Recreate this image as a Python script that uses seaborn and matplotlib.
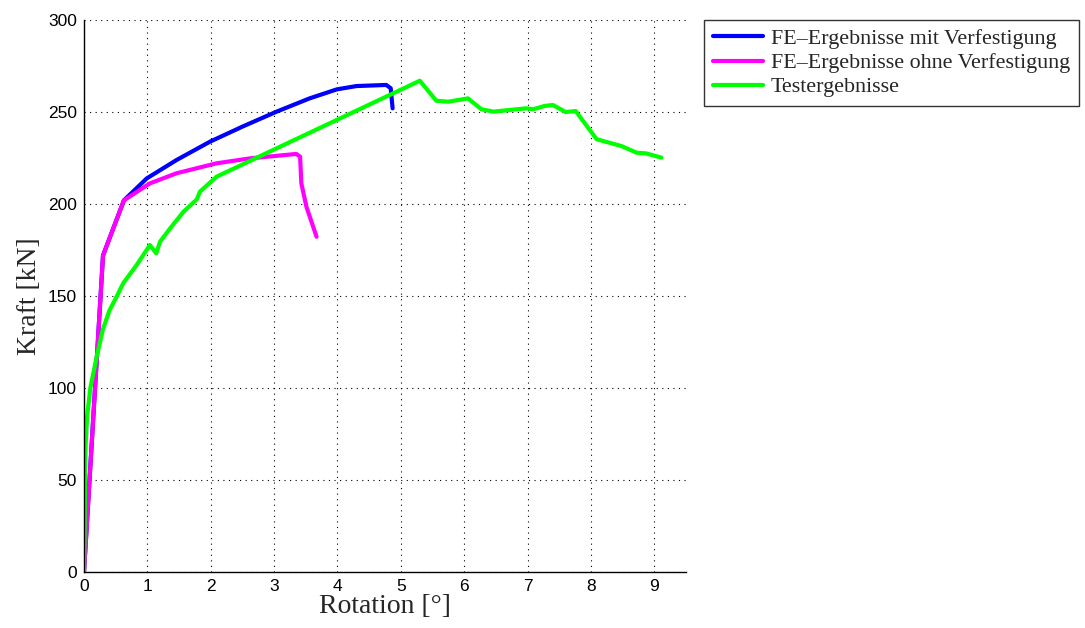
import numpy as np
import pandas as pd
import matplotlib
matplotlib.use("Agg")
import matplotlib.pyplot as plt
from matplotlib.ticker import AutoMinorLocator
import seaborn as sns

# --- data ---
rot_mit = [0.0, 0.30, 0.63, 0.99, 1.46, 1.99, 2.51, 3.04, 3.56, 3.99, 4.30, 4.77, 4.84, 4.87]
kraft_mit = [0.0, 172.0, 202.0, 213.9, 223.9, 233.9, 242.2, 250.2, 257.4, 262.3, 264.1, 264.7, 262.9, 252.0]

rot_ohne = [0.0, 0.30, 0.63, 1.04, 1.46, 2.09, 2.62, 3.35, 3.41, 3.43, 3.51, 3.67]
kraft_ohne = [0.0, 172.0, 202.0, 211.2, 216.7, 222.1, 224.8, 227.2, 225.7, 211.2, 198.5, 182.2]

rot_test = [0.0, 0.01, 0.02, 0.05, 0.10, 0.20, 0.30, 0.40, 0.52, 0.62, 0.83, 1.04, 1.14, 1.20,
            1.36, 1.57, 1.78, 1.83, 2.09, 5.30, 5.56, 5.75, 6.06, 6.27, 6.46, 6.98, 7.09,
            7.27, 7.40, 7.60, 7.76, 8.09, 8.48, 8.72, 8.87, 9.11]
kraft_test = [0.0, 25.0, 65.0, 85.0, 100.0, 117.0, 132.0, 142.0, 150.0, 157.0, 166.8, 177.7, 173.2, 179.5,
              186.8, 195.8, 202.5, 206.7, 214.8, 267.0, 256.1, 255.6, 257.4, 251.5, 250.2, 252.0, 251.5,
              253.3, 253.8, 250.0, 250.5, 235.2, 231.5, 227.9, 227.5, 225.2]

labels = ["FE\u2013Ergebnisse mit Verfestigung",
          "FE\u2013Ergebnisse ohne Verfestigung",
          "Testergebnisse"]
x_ticks = list(range(0, 10))
y_ticks = [0, 50, 100, 150, 200, 250, 300]

df = pd.concat([
    pd.DataFrame({"Rotation": rot_mit, "Kraft": kraft_mit, "Serie": labels[0]}),
    pd.DataFrame({"Rotation": rot_ohne, "Kraft": kraft_ohne, "Serie": labels[1]}),
    pd.DataFrame({"Rotation": rot_test, "Kraft": kraft_test, "Serie": labels[2]}),
], ignore_index=True)

sns.set_style("white")
plt.rcParams["font.family"] = ["Liberation Sans", "DejaVu Sans"]

fig = plt.figure(figsize=(10.85, 6.28), dpi=100)
ax = fig.add_axes([84 / 1085, 1 - 572 / 628, (686 - 84) / 1085, (572 - 20) / 628])

palette = {labels[0]: "#0000ff", labels[1]: "#ff00ff", labels[2]: "#00ff00"}
sns.lineplot(data=df, x="Rotation", y="Kraft", hue="Serie", palette=palette, sort=False,
             estimator=None, units="Serie", linewidth=3.0, ax=ax, legend=True)

ax.set_xlim(0, 9.5)
ax.set_ylim(0, 300)
ax.set_xticks(x_ticks)
ax.set_yticks(y_ticks)
ax.xaxis.set_minor_locator(AutoMinorLocator(8))
ax.yaxis.set_minor_locator(AutoMinorLocator(10))
ax.tick_params(which="major", direction="in", length=5, width=0.8, labelsize=12.5,
               colors="black", pad=5)
ax.tick_params(which="minor", direction="in", length=2.5, width=0.6, colors="black")
ax.grid(True, which="major", linestyle=(0, (1, 4)), color="black", linewidth=0.8)
for s in ["top", "right"]:
    ax.spines[s].set_visible(False)
for s in ["left", "bottom"]:
    ax.spines[s].set_color("black")
    ax.spines[s].set_linewidth(1.0)

ax.set_xlabel("Rotation [\u00b0]", fontsize=20, family="Liberation Serif", labelpad=0)
ax.set_ylabel("Kraft [kN]", fontsize=20, family="Liberation Serif", labelpad=4)

handles, lbls = ax.get_legend_handles_labels()
leg = ax.legend(handles, lbls, loc="upper left", bbox_to_anchor=(704 / 1085, 1 - 20 / 628),
                bbox_transform=fig.transFigure, frameon=True, fancybox=False,
                prop={"family": "Liberation Serif", "size": 15.8}, handlelength=2.3,
                handletextpad=0.35, borderpad=0.4, labelspacing=0.17, borderaxespad=0)
leg.get_frame().set_edgecolor("black")
leg.get_frame().set_linewidth(1.0)
for h in leg.get_lines():
    h.set_linewidth(3.0)

fig.savefig("out.png", dpi=100)
